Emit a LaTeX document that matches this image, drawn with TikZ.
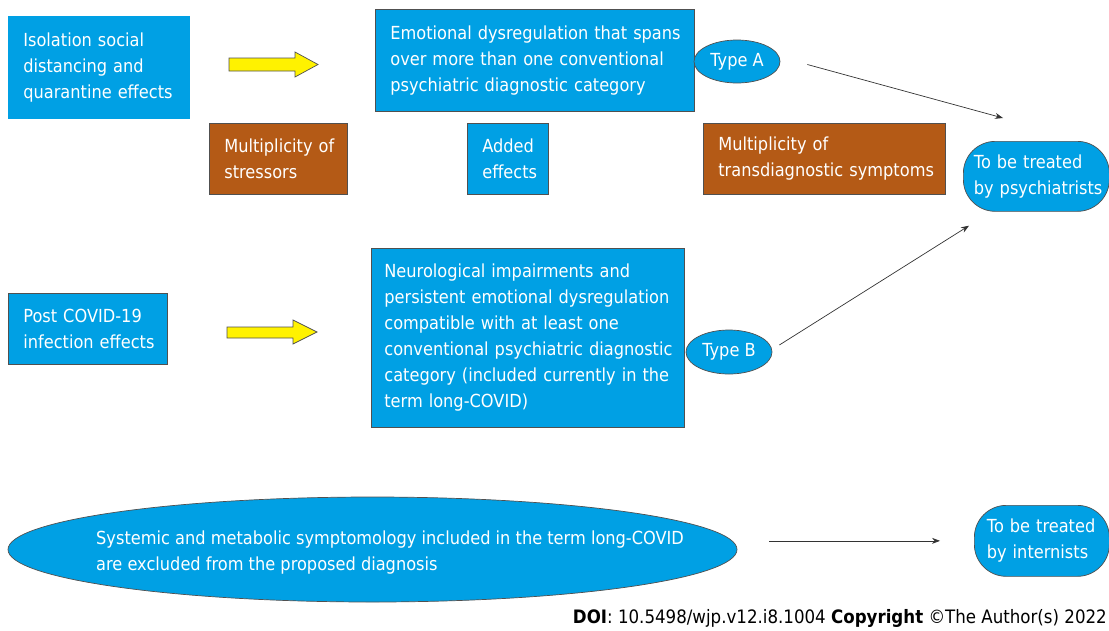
\documentclass[tikz,border=0pt]{standalone}
\usepackage{fontspec}
\setmainfont{DejaVu Sans}[FakeStretch=0.9]
\usetikzlibrary{shapes.geometric,arrows.meta,calc}
\definecolor{cblue}{RGB}{0,160,228}
\definecolor{cbrown}{RGB}{180,90,22}
\definecolor{cyel}{RGB}{255,242,0}
\definecolor{cedge}{RGB}{80,80,80}
\begin{document}
\begin{tikzpicture}[x=1pt,y=-1pt,
 fnt/.style={font=\fontsize{18}{26}\selectfont},
 bx/.style={fnt, draw=cedge, line width=0.7pt, fill=cblue, text=white, align=left, anchor=north west, inner xsep=15pt, inner ysep=0pt},
 bbx/.style={bx, fill=cbrown},
 ov/.style={fnt, ellipse, draw=cedge, line width=0.7pt, fill=cblue, text=white, inner sep=0pt},
 rnd/.style={fnt, rectangle, rounded corners=32pt, draw=cedge, line width=0.7pt, fill=cblue, text=white, align=left, anchor=north west, inner sep=0pt},
 arr/.style={draw=black!80, line width=0.7pt, -{Stealth[length=8pt,width=6pt]}},
 yarr/.style={draw=cedge, line width=0.7pt, fill=cyel}]
\useasboundingbox (0,0) rectangle (1109,630);

\node[bx, draw=cblue, text width=151pt, minimum height=102pt] (iso) at (8,16) {\mbox{Isolation social}\\\mbox{distancing and}\\\mbox{quarantine effects}};
\node[bx, text width=289pt, minimum height=102pt] (emo) at (375,9) {\mbox{Emotional dysregulation that spans}\\\mbox{over more than one conventional}\\\mbox{psychiatric diagnostic category}};
\node[bbx, text width=108pt, minimum height=71pt] (str) at (209,123) {\mbox{Multiplicity of}\\\mbox{stressors}};
\node[bx, text width=51pt, minimum height=71pt] (add) at (467,123) {\mbox{Added}\\\mbox{effects}};
\node[bbx, text width=212pt, minimum height=71pt] (trd) at (703,123) {\mbox{Multiplicity of}\\\mbox{transdiagnostic symptoms}};
\node[bx, text width=129pt, minimum height=71pt] (post) at (8,293) {\mbox{Post COVID-19}\\\mbox{infection effects}};
\node[bx, inner xsep=13pt, text width=287pt, minimum height=179pt] (neu) at (371,248) {\mbox{Neurological impairments and}\\\mbox{persistent emotional dysregulation}\\\mbox{compatible with at least one}\\\mbox{conventional psychiatric diagnostic}\\\mbox{category (included currently in the}\\\mbox{term long-COVID)}};

\node[ov, minimum width=86pt, minimum height=43pt] (ta) at (737,61.5) {Type A};
\node[ov, minimum width=86pt, minimum height=44pt] (tb) at (729,352) {Type B};

\node[rnd, minimum width=146pt, minimum height=70pt, text width=125pt] (ps) at (963,141) {\mbox{To be treated}\\\mbox{by psychiatrists}};
\node[rnd, minimum width=135pt, minimum height=71pt, text width=110pt] (int) at (974,505) {\mbox{To be treated}\\\mbox{by internists}};

\node[ov, minimum width=729pt, minimum height=105pt] (sys) at (372.5,549.5) {};
\node[fnt, text=white, align=left, anchor=west, inner sep=0pt] (systxt) at (96,553) {Systemic and metabolic symptomology included in the term long-COVID\\are excluded from the proposed diagnosis};

\node[anchor=east, inner sep=0pt, font=\fontsize{18.5}{22}\selectfont] (doi) at (1107,618) {\textbf{DOI}: 10.5498/wjp.v12.i8.1004 \textbf{Copyright} ©The Author(s) 2022};

\draw[yarr] (229,58) -- (295,58) -- (295,52) -- (318,64.5) -- (295,77) -- (295,71) -- (229,71) -- cycle;
\draw[yarr] (227,327) -- (293,327) -- (293,320) -- (317,332) -- (293,344) -- (293,338) -- (227,338) -- cycle;

\draw[arr] ($(ta.east)+(27,3)$) -- ($(ps.north west)+(40,-23)$);
\draw[arr] ($(tb.east)+(7,-7)$) -- ($(ps.south west)+(6,14)$);
\draw[arr, shorten <=32pt, shorten >=34pt] (sys.east |- int.west) -- (int.west);
\end{tikzpicture}
\end{document}
